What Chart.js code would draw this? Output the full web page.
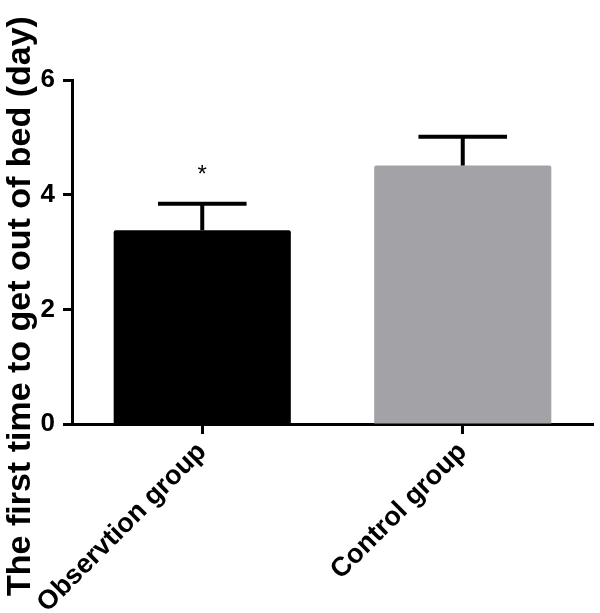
<!DOCTYPE html>
<html>
<head>
<meta charset="utf-8">
<script src="https://cdn.jsdelivr.net/npm/chart.js@4/dist/chart.umd.min.js"></script>
<style>
  html, body { margin: 0; padding: 0; background: #fff; }
  #wrap { width: 600px; height: 613px; }
</style>
</head>
<body>
<div id="wrap"><canvas id="grafico"></canvas></div>
<script>
// dados
const grupos = ['Observtion group', 'Control group'];
const medias = [3.38, 4.51];
const erros = [0.46, 0.5];
const marcas = ['*', ''];
const cores = ['#000000', '#a3a2a6'];
const ticksY = [0, 2, 4, 6];
const tituloY = 'The first time to get out of bed (day)';

const fonte = '"Liberation Sans", Arial, sans-serif';

// barras de erro + asterisco
const errorBars = {
  id: 'errorBars',
  afterDatasetsDraw(chart) {
    const ctx = chart.ctx;
    const y = chart.scales.y;
    const meta = chart.getDatasetMeta(0);
    ctx.save();
    ctx.strokeStyle = '#000';
    ctx.lineWidth = 4;
    meta.data.forEach((bar, i) => {
      const yBase = y.getPixelForValue(medias[i]);
      const yTopo = y.getPixelForValue(medias[i] + erros[i]);
      const meio = bar.width / 4;
      ctx.beginPath();
      ctx.moveTo(bar.x, yBase);
      ctx.lineTo(bar.x, yTopo);
      ctx.moveTo(bar.x - meio, yTopo);
      ctx.lineTo(bar.x + meio, yTopo);
      ctx.stroke();
      if (marcas[i]) {
        ctx.fillStyle = '#000';
        ctx.font = '24px ' + fonte;
        ctx.textAlign = 'center';
        ctx.textBaseline = 'middle';
        ctx.fillText(marcas[i], bar.x, yTopo - 28);
      }
    });
    ctx.restore();
  }
};

// titulo do eixo y centrado no canvas
const tituloEixo = {
  id: 'tituloEixo',
  afterDraw(chart) {
    const ctx = chart.ctx;
    ctx.save();
    ctx.translate(21, 306);
    ctx.rotate(-Math.PI / 2);
    ctx.fillStyle = '#000';
    ctx.font = 'bold 34px ' + fonte;
    ctx.textAlign = 'center';
    ctx.textBaseline = 'middle';
    ctx.fillText(tituloY, 0, 0);
    ctx.restore();
  }
};

new Chart(document.getElementById('grafico'), {
  type: 'bar',
  data: {
    labels: grupos,
    datasets: [{
      data: medias,
      backgroundColor: cores,
      borderRadius: 2,
      borderSkipped: 'bottom',
      categoryPercentage: 1,
      barPercentage: 0.68
    }]
  },
  options: {
    responsive: true,
    maintainAspectRatio: false,
    animation: false,
    layout: { padding: { top: 80, right: 7, left: 0, bottom: 0 } },
    plugins: {
      legend: { display: false },
      tooltip: { enabled: false }
    },
    scales: {
      x: {
        afterFit(scale) { scale.height = 189; },
        grid: { display: true, offset: false, drawOnChartArea: false, color: '#000', tickLength: 10, tickWidth: 3 },
        border: { display: true, color: '#000', width: 3 },
        ticks: {
          color: '#000',
          font: { family: fonte, size: 27, weight: 'bold' },
          maxRotation: 45,
          minRotation: 45,
          padding: 2,
          autoSkip: false
        }
      },
      y: {
        min: 0,
        max: 6,
        afterFit(scale) { scale.width = 72; },
        afterBuildTicks(scale) { scale.ticks = ticksY.map(v => ({ value: v })); },
        grid: { display: true, drawOnChartArea: false, color: '#000', tickLength: 9, tickWidth: 3 },
        border: { display: true, color: '#000', width: 3 },
        ticks: {
          color: '#000',
          font: { family: fonte, size: 26, weight: 'bold' },
          padding: 8
        }
      }
    }
  },
  plugins: [errorBars, tituloEixo]
});
</script>
</body>
</html>
